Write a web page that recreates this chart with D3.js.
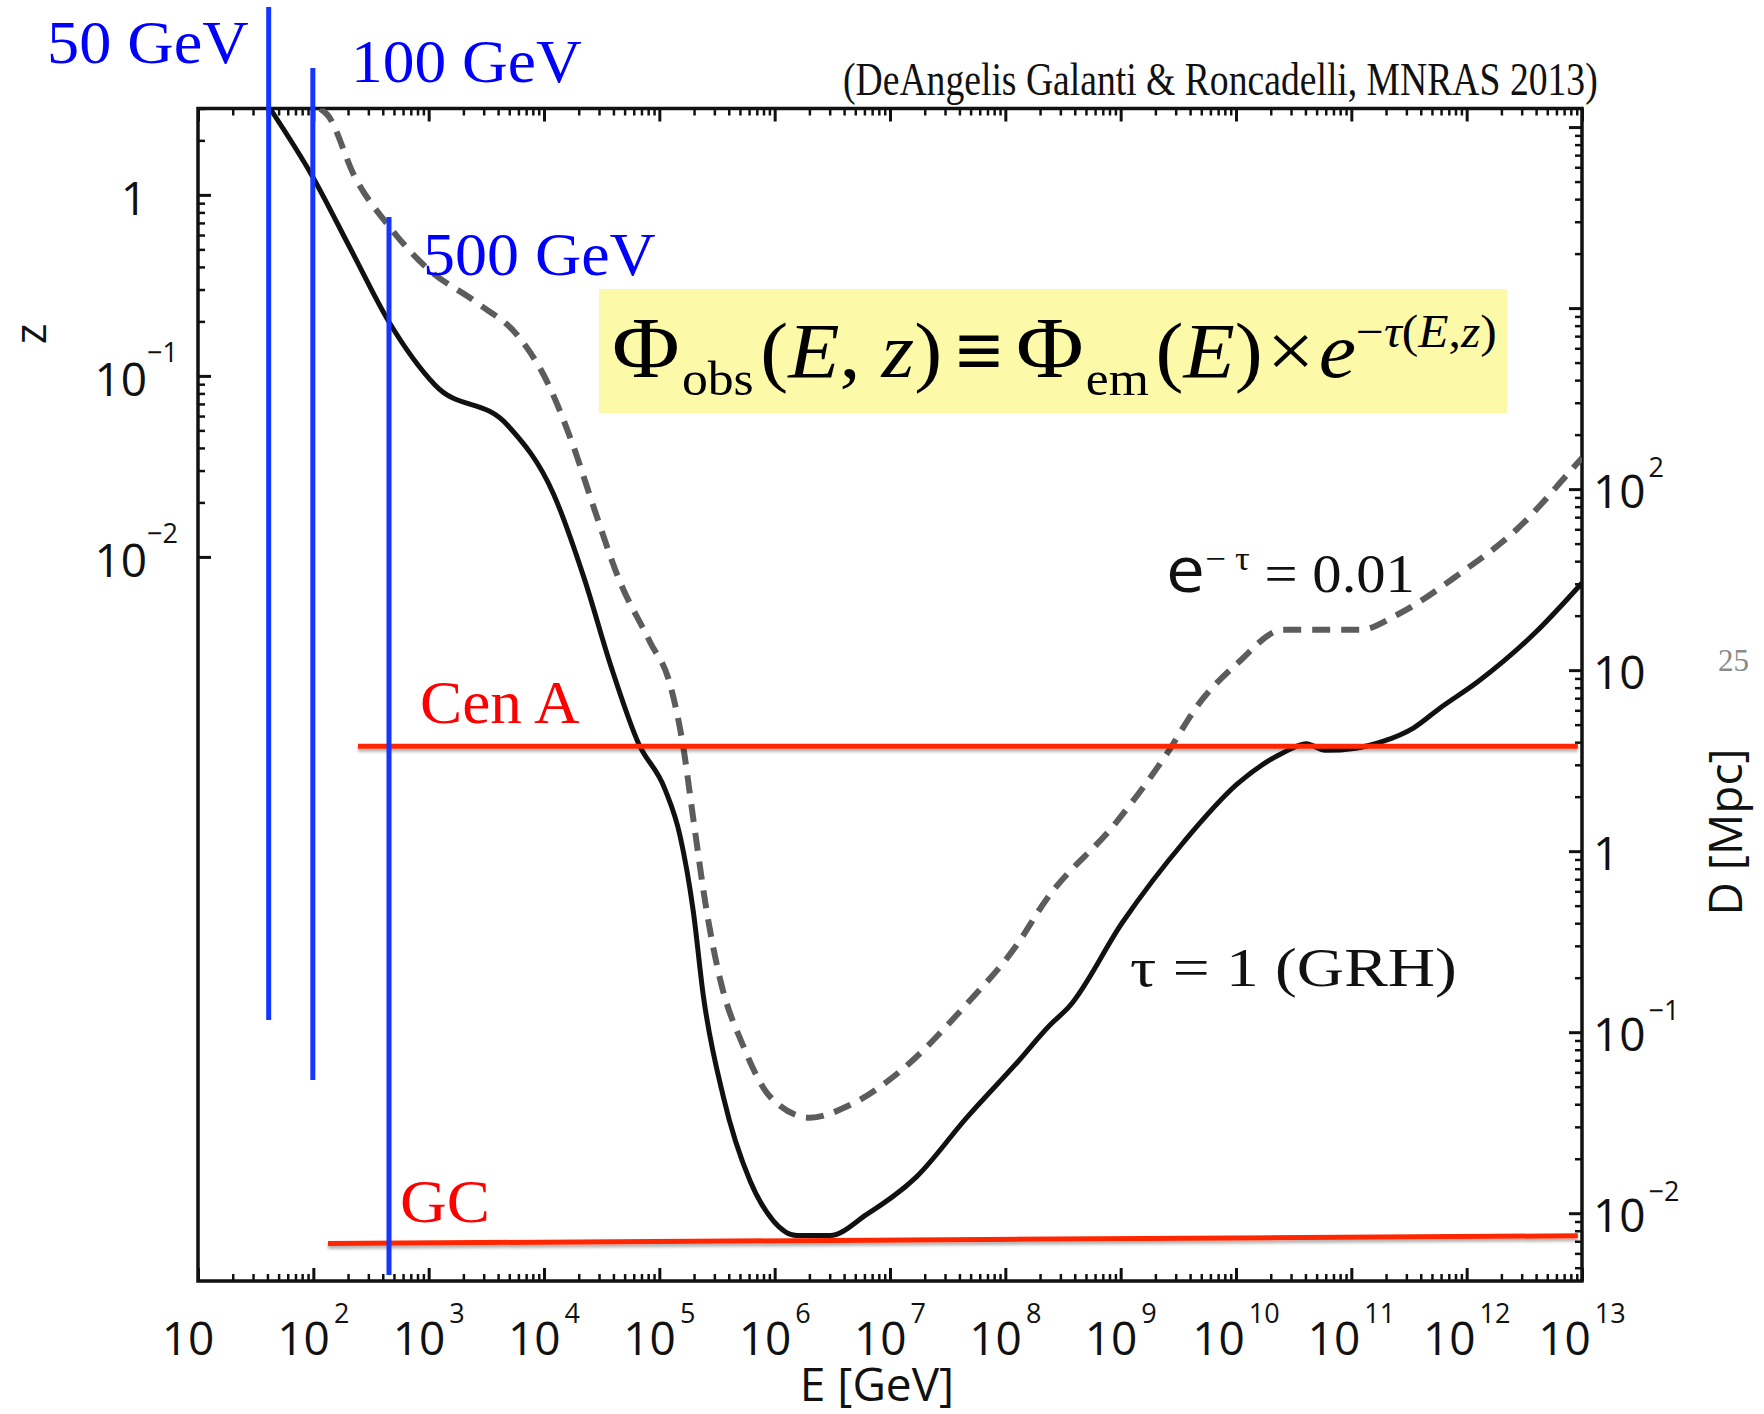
<!DOCTYPE html>
<html><head><meta charset="utf-8">
<script src="https://cdn.jsdelivr.net/npm/d3@7"></script>
<style>html,body{margin:0;padding:0;background:#fff;} svg{display:block;}</style>
</head><body>
<svg id="chart" width="1764" height="1414"></svg>
<script>
// ---------------- data ----------------
const K_MPC_PER_Z = 4222;            // D [Mpc] = (c/H0) * z  (right axis)
const xDomain = [10, 1e13];          // E [GeV]
const zDomain = [1e-6, 3];           // redshift z
const xTickExps = [1,2,3,4,5,6,7,8,9,10,11,12,13];
const zLabelExps = [0, -1, -2];
const dLabelExps = [2, 1, 0, -1, -2];

// tau = 1 (GRH) curve — solid
const solidE = [42.1, 98.3, 211, 453, 1135, 4836, 12115, 22314, 38107, 65710, 1.12e5, 1.511e5, 1.97e5, 2.406e5, 3.586e5, 6.114e5, 9.734e5, 1.553e6, 3.019e6, 6.283e6, 1.705e7, 4.627e7, 1.256e8, 2.441e8, 3.559e8, 1.038e9, 3.523e9, 1.027e10, 2.568e10, 4.064e10, 5.951e10, 1.096e11, 1.872e11, 3.449e11, 5.888e11, 1.265e12, 3.98e12, 9.22e12, 1e13];
const solidZ = [3.0, 1.264, 0.5006, 0.1986, 0.0891, 0.05336, 0.02221, 0.00761, 0.002485, 9.38e-4, 5.2e-4, 2.884e-4, 1.101e-4, 3.773e-5, 1.044e-5, 3.578e-6, 2.151e-6, 1.784e-6, 1.784e-6, 2.331e-6, 3.774e-6, 7.988e-6, 1.601e-5, 2.596e-5, 3.265e-5, 9.59e-5, 2.662e-4, 5.567e-4, 8.29e-4, 9.28e-4, 8.54e-4, 8.78e-4, 9.56e-4, 1.134e-3, 1.464e-3, 2.056e-3, 3.844e-3, 6.78e-3, 7.18e-3];

// e^-tau = 0.01 curve — dashed
const dashE = [114.2, 133.5, 228, 453, 973, 2626, 6085, 10390, 17740, 28080, 44360, 83050, 1.238e5, 1.614e5, 1.97e5, 2.575e5, 3.358e5, 5.348e5, 9.114e5, 2.025e6, 4.501e6, 1.222e7, 4.627e7, 1.256e8, 2.253e8, 8.903e8, 2.405e9, 4.78e9, 1.027e10, 2.568e10, 1.182e11, 2.54e11, 8.618e11, 2.712e12, 9.22e12, 1e13];
const dashZ = [3.0, 2.753, 1.264, 0.6708, 0.3926, 0.2534, 0.1634, 0.09567, 0.04184, 0.01742, 0.00761, 3.389e-3, 1.981e-3, 8.88e-4, 3.571e-4, 1.101e-4, 4.672e-5, 1.985e-5, 1.044e-5, 7.988e-6, 9.386e-6, 1.439e-5, 3.391e-5, 7.173e-5, 1.273e-4, 3.343e-4, 7.838e-4, 1.548e-3, 2.582e-3, 3.954e-3, 3.954e-3, 4.82e-3, 8.04e-3, 0.01418, 0.03323, 0.0352];

// blue energy markers
const blueLabels = ["50 GeV", "100 GeV", "500 GeV"];
const blueE = [41, 99, 453];
const blueZTop = [10.9, 5.02, 0.755];
const blueZBottom = [2.77e-5, 1.29e-5, 1.08e-6];

// red source distances (Mpc)
const cenAE = [244, 9.2e12];
const cenAD = [3.8, 3.8];
const gcE = [134, 9.2e12];
const gcD = [0.0068, 0.0075];

// ---------------- layout ----------------
const W = 1764, H = 1414;
const L = 198, R = 1582, T = 108.5, B = 1281;
const svg = d3.select("#chart");
svg.append("rect").attr("width", W).attr("height", H).attr("fill", "#fff");

const x = d3.scaleLog().domain(xDomain).range([L, R]);
const y = d3.scaleLog().domain(zDomain).range([B, T]);
const yD = d3.scaleLog().domain(zDomain.map(z => z * K_MPC_PER_Z)).range([B, T]);

const defs = svg.append("defs");
defs.append("clipPath").attr("id", "plot").append("rect")
  .attr("x", L).attr("y", T).attr("width", R - L).attr("height", B - T);
const sh = defs.append("filter").attr("id", "shadow").attr("filterUnits", "userSpaceOnUse")
  .attr("x", 0).attr("y", 0).attr("width", W).attr("height", H);
sh.append("feDropShadow").attr("dx", 0).attr("dy", 3).attr("stdDeviation", 1.6)
  .attr("flood-color", "#000").attr("flood-opacity", 0.3);

const SANS = "'Open Sans', 'DejaVu Sans', sans-serif";
const SERIF = "'Liberation Serif', 'Times New Roman', serif";

// ---------------- ticks ----------------
function majors(lo, hi) {
  const out = [];
  for (let p = Math.floor(Math.log10(lo)) - 1; p <= Math.ceil(Math.log10(hi)) + 1; p++) {
    const v = Math.pow(10, p);
    if (v >= lo * 0.999 && v <= hi * 1.001) out.push(v);
  }
  return out;
}
function minors(lo, hi) {
  const out = [];
  for (let p = Math.floor(Math.log10(lo)) - 1; p <= Math.ceil(Math.log10(hi)) + 1; p++) {
    for (let k = 2; k <= 9; k++) {
      const v = k * Math.pow(10, p);
      if (v >= lo * 0.999 && v <= hi * 1.001) out.push(v);
    }
  }
  return out;
}
function styleAxis(g, w) {
  g.select(".domain").remove();
  g.selectAll(".tick line").attr("stroke", "#111").attr("stroke-width", w);
  g.selectAll(".tick text").remove();
}
const MAJ = 13, MIN = 7;
const xMaj = majors(xDomain[0], xDomain[1]), xMin = minors(xDomain[0], xDomain[1]);
[[d3.axisBottom, B], [d3.axisTop, T]].forEach(([ax, pos]) => {
  svg.append("g").attr("transform", `translate(0,${pos})`)
    .call(ax(x).tickValues(xMin).tickSize(-MIN).tickFormat("")).call(g => styleAxis(g, 2.5));
  svg.append("g").attr("transform", `translate(0,${pos})`)
    .call(ax(x).tickValues(xMaj).tickSize(-MAJ).tickFormat("")).call(g => styleAxis(g, 3));
});
const zMaj = majors(0.01, zDomain[1]), zMin = minors(0.01, zDomain[1]);
svg.append("g").attr("transform", `translate(${L},0)`)
  .call(d3.axisLeft(y).tickValues(zMin).tickSize(-MIN).tickFormat("")).call(g => styleAxis(g, 2.5));
svg.append("g").attr("transform", `translate(${L},0)`)
  .call(d3.axisLeft(y).tickValues(zMaj).tickSize(-MAJ).tickFormat("")).call(g => styleAxis(g, 3));
const dDom = yD.domain();
svg.append("g").attr("transform", `translate(${R},0)`)
  .call(d3.axisRight(yD).tickValues(minors(dDom[0], dDom[1])).tickSize(-MIN).tickFormat("")).call(g => styleAxis(g, 2.5));
svg.append("g").attr("transform", `translate(${R},0)`)
  .call(d3.axisRight(yD).tickValues(majors(dDom[0], dDom[1])).tickSize(-MAJ).tickFormat("")).call(g => styleAxis(g, 3));

// frame
svg.append("rect").attr("x", L).attr("y", T).attr("width", R - L).attr("height", B - T)
  .attr("fill", "none").attr("stroke", "#111").attr("stroke-width", 3.5);

// ---------------- tick labels ----------------
const minus = e => (e < 0 ? "\u2212" + (-e) : "" + e);
// bottom
xTickExps.forEach(e => {
  const t = svg.append("text").attr("x", x(Math.pow(10, e)) - (e === 1 ? 10 : 0)).attr("y", 1355)
    .attr("text-anchor", "middle").attr("font-family", SANS).attr("font-size", 46).attr("fill", "#111");
  t.append("tspan").text("10");
  if (e !== 1) t.append("tspan").attr("dx", 4).attr("dy", -32).attr("font-size", 27).text(minus(e));
});
// left (z)
zLabelExps.forEach(e => {
  const yy = y(Math.pow(10, e)) + 20;
  svg.append("text").attr("x", 147).attr("y", yy).attr("text-anchor", "end")
    .attr("font-family", SANS).attr("font-size", 46).attr("fill", "#111").text(e === 0 ? "1" : "10");
  if (e !== 0) svg.append("text").attr("x", 147).attr("y", yy - 34).attr("font-family", SANS)
    .attr("font-size", 27).attr("fill", "#111").text(minus(e));
});
// right (D)
dLabelExps.forEach(e => {
  const t = svg.append("text").attr("x", 1593).attr("y", yD(Math.pow(10, e)) + 19)
    .attr("font-family", SANS).attr("font-size", 46).attr("fill", "#111");
  t.append("tspan").text(e === 0 ? "1" : "10");
  if (e !== 0 && e !== 1) t.append("tspan").attr("dx", 3).attr("dy", -31).attr("font-size", 27).text(minus(e));
});

// axis titles
svg.append("text").attr("transform", "translate(46,334) rotate(-90)").attr("text-anchor", "middle")
  .attr("font-family", SANS).attr("font-size", 44).attr("fill", "#111").text("z");
svg.append("text").attr("transform", "translate(1742,832) rotate(-90)").attr("text-anchor", "middle")
  .attr("font-family", SANS).attr("font-size", 46).attr("fill", "#111").text("D [Mpc]");
svg.append("text").attr("x", 877).attr("y", 1401).attr("text-anchor", "middle")
  .attr("font-family", SANS).attr("font-size", 46).attr("fill", "#111").text("E [GeV]");

// ---------------- curves ----------------
const line = d3.line().x(d => x(d[0])).y(d => y(d[1])).curve(d3.curveMonotoneX);
const plot = svg.append("g").attr("clip-path", "url(#plot)");
plot.append("path").datum(d3.zip(dashE, dashZ)).attr("d", line)
  .attr("fill", "none").attr("stroke", "#5c5c5c").attr("stroke-width", 6).attr("stroke-dasharray", "18,11");
plot.append("path").datum(d3.zip(solidE, solidZ)).attr("d", line)
  .attr("fill", "none").attr("stroke", "#111").attr("stroke-width", 5).attr("stroke-linejoin", "round");

// ---------------- red distance lines ----------------
const lineD = d3.line().x(d => x(d[0])).y(d => yD(d[1]));
[[cenAE, cenAD], [gcE, gcD]].forEach(([es, ds]) => {
  svg.append("path").datum(d3.zip(es, ds)).attr("d", lineD)
    .attr("fill", "none").attr("stroke", "#ff2600").attr("stroke-width", 5).attr("filter", "url(#shadow)");
});

// ---------------- blue energy lines ----------------
blueE.forEach((e, i) => {
  svg.append("line").attr("x1", x(e)).attr("x2", x(e)).attr("y1", y(blueZTop[i])).attr("y2", y(blueZBottom[i]))
    .attr("stroke", "#1436ff").attr("stroke-width", 5);
});

// ---------------- annotations ----------------
function fit(sel, xLeft, baseline, width) {
  const b = sel.node().getBBox();
  const s = width / b.width;
  sel.attr("transform", `translate(${xLeft - b.x * s},${baseline}) scale(${s},1)`);
  return sel;
}
function label(txt, size, color, xLeft, baseline, width, family) {
  const t = svg.append("text").attr("x", 0).attr("y", 0).attr("font-family", family || SERIF)
    .attr("font-size", size).attr("fill", color).text(txt);
  return fit(t, xLeft, baseline, width);
}
label("(DeAngelis Galanti & Roncadelli, MNRAS 2013)", 46, "#111", 843, 95, 755);
label(blueLabels[0], 62, "#0000ff", 47, 63, 202);
label(blueLabels[1], 62, "#0000ff", 351, 82, 231);
label(blueLabels[2], 62, "#0000ff", 423, 275, 233);
label("Cen A", 62, "#ff0000", 420, 723, 160);
label("GC", 62, "#ff0000", 400, 1222, 90);
label("\u03C4 = 1 (GRH)", 54, "#111", 1130, 986, 327);
svg.append("text").attr("x", 1718).attr("y", 671).attr("font-family", SERIF).attr("font-size", 31)
  .attr("fill", "#8a8a8a").text("25");

// e^-tau = 0.01
{
  const t = svg.append("text").attr("x", 0).attr("y", 0).attr("font-family", SERIF).attr("font-size", 54).attr("fill", "#111");
  t.append("tspan").attr("font-family", SANS).attr("font-size", 64).text("e");
  t.append("tspan").attr("font-size", 34).attr("dy", -22).text("\u2212 \u03C4");
  t.append("tspan").attr("dy", 22).text(" = 0.01");
  fit(t, 1166, 592, 249);
}

// formula box
svg.append("rect").attr("x", 599).attr("y", 289).attr("width", 908).attr("height", 124).attr("fill", "#fcfaa9");
{
  const f = svg.append("text").attr("x", 0).attr("y", 0).attr("font-family", SERIF).attr("font-size", 78).attr("fill", "#000");
  const sp = (txt, o) => {
    const s = f.append("tspan").text(txt);
    Object.entries(o || {}).forEach(([k, v]) => s.attr(k, v));
    return s;
  };
  sp("\u03A6", {"font-size": 86});
  sp("obs", {"font-size": 48, dy: 18, dx: 2});
  sp("(", {dy: -18, dx: 6});
  sp("E", {"font-style": "italic"});
  sp(", ");
  sp("z", {"font-style": "italic"});
  sp(")");
  sp("\u2261", {dx: 12, "font-weight": "bold"});
  sp("\u03A6", {dx: 12, "font-size": 86});
  sp("em", {"font-size": 48, dy: 18, dx: 2});
  sp("(", {dy: -18, dx: 6});
  sp("E", {"font-style": "italic"});
  sp(")");
  sp("\u00D7", {dx: 4});
  sp("e", {dx: 4, "font-style": "italic"});
  sp("\u2212", {"font-size": 46, dy: -30});
  sp("\u03C4", {"font-size": 46, "font-style": "italic"});
  sp("(", {"font-size": 46});
  sp("E", {"font-size": 46, "font-style": "italic"});
  sp(",", {"font-size": 46});
  sp("z", {"font-size": 46, "font-style": "italic"});
  sp(")", {"font-size": 46});
  fit(f, 612, 377, 885);
}
</script>
</body></html>
